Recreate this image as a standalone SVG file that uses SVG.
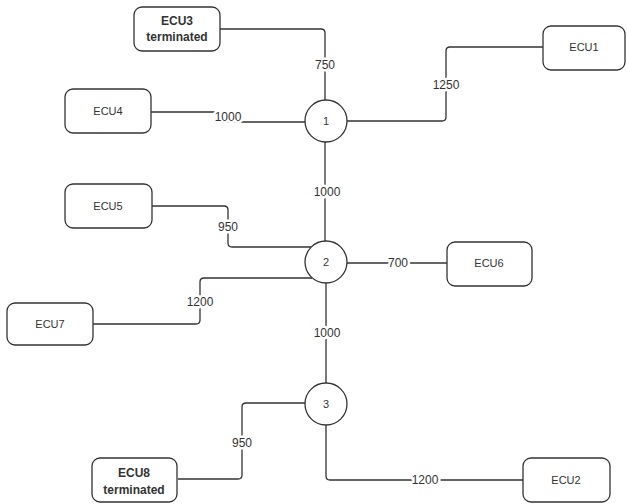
<svg xmlns="http://www.w3.org/2000/svg" width="627" height="504" viewBox="0 0 627 504">
<style>
.box{fill:#fff;stroke:#333;stroke-width:1.3}
.hub{fill:#fff;stroke:#333;stroke-width:1.3}
.wire{fill:none;stroke:#333;stroke-width:1.3}
text{font-family:"Liberation Sans",Arial,sans-serif;fill:#333;text-anchor:middle}
.n{font-size:11px}
.b{font-size:12px;font-weight:bold}
.lbl{font-size:12px;stroke:#fff;stroke-width:5;paint-order:stroke;stroke-linejoin:round}
.h{font-size:11px}
</style>
<rect width="627" height="504" fill="#fff"/>
<g id="connectors">
<path class="wire" d="M220,29 H321 Q325,29 325,33 V100"/>
<path class="wire" d="M151,112 H228 V122 H305"/>
<path class="wire" d="M543,47 H450 Q446,47 446,51 V117 Q446,121 442,121 H347"/>
<path class="wire" d="M325,142 V241"/>
<path class="wire" d="M152,206 H224 Q228,206 228,210 V243 Q228,247 232,247 H311"/>
<path class="wire" d="M93,324 H196 Q200,324 200,320 V282 Q200,278 204,278 H312"/>
<path class="wire" d="M347,263 H447"/>
<path class="wire" d="M326,283 V383"/>
<path class="wire" d="M305,403 H246 Q242,403 242,407 V475 Q242,479 238,479 H178"/>
<path class="wire" d="M326,425 V476 Q326,480 330,480 H523"/>
<text class="lbl" x="325" y="69">750</text>
<text class="lbl" x="228" y="121">1000</text>
<text class="lbl" x="446" y="89">1250</text>
<text class="lbl" x="327" y="196">1000</text>
<text class="lbl" x="228" y="231">950</text>
<text class="lbl" x="200" y="306">1200</text>
<text class="lbl" x="398" y="267">700</text>
<text class="lbl" x="327" y="337">1000</text>
<text class="lbl" x="242" y="447">950</text>
<text class="lbl" x="425" y="484">1200</text>
</g>
<g id="ECU3"><rect class="box" x="134" y="7" width="86" height="44" rx="8"/><text class="b" x="177" y="25">ECU3</text><text class="b" x="177" y="41">terminated</text></g>
<g id="ECU4"><rect class="box" x="65" y="89" width="86" height="44" rx="8"/><text class="n" x="108" y="115">ECU4</text></g>
<g id="ECU1"><rect class="box" x="543" y="26" width="82" height="44" rx="8"/><text class="n" x="584" y="51">ECU1</text></g>
<g id="ECU5"><rect class="box" x="65" y="184" width="87" height="44" rx="8"/><text class="n" x="108" y="210">ECU5</text></g>
<g id="ECU7"><rect class="box" x="7" y="303" width="86" height="42" rx="8"/><text class="n" x="50" y="328">ECU7</text></g>
<g id="ECU6"><rect class="box" x="447" y="242" width="85" height="44" rx="8"/><text class="n" x="489" y="267">ECU6</text></g>
<g id="ECU8"><rect class="box" x="92" y="458" width="85" height="44" rx="8"/><text class="b" x="134" y="477">ECU8</text><text class="b" x="134" y="494">terminated</text></g>
<g id="ECU2"><rect class="box" x="523" y="458" width="87" height="44" rx="8"/><text class="n" x="566" y="484">ECU2</text></g>
<g id="hub1"><circle class="hub" cx="326" cy="121" r="21"/><text class="h" x="326" y="125">1</text></g>
<g id="hub2"><circle class="hub" cx="326" cy="262" r="21"/><text class="h" x="326" y="266">2</text></g>
<g id="hub3"><circle class="hub" cx="326" cy="404" r="21"/><text class="h" x="326" y="408">3</text></g>
</svg>
